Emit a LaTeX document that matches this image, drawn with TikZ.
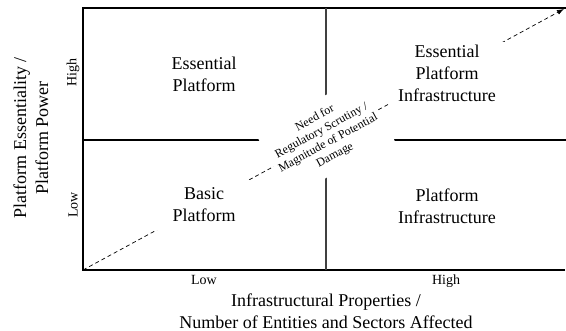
\documentclass[tikz,border=0pt]{standalone}
\usepackage{fontspec}
\setmainfont{Liberation Serif}
\usetikzlibrary{arrows.meta}
\begin{document}
\begin{tikzpicture}[x=1pt,y=-1pt,
  quad/.style={align=center,fill=white,inner sep=0pt,font=\fontsize{18}{22}\selectfont},
  axtitle/.style={align=center,inner sep=0pt,font=\fontsize{18}{22}\selectfont},
  level/.style={inner sep=0pt,font=\fontsize{14}{16}\selectfont},
  frame/.style={line width=1.2pt},
  divider/.style={line width=1.2pt,black!75},
  middivider/.style={line width=1.8pt},
  trend/.style={dash pattern=on 4pt off 3pt,line width=0.7pt,-{Latex[length=7pt,width=5pt]}},
  need/.style={align=center,fill=white,inner sep=0pt,rotate=28.5,
    minimum width=119pt,minimum height=73pt,font=\fontsize{12}{14}\selectfont},
]
\useasboundingbox (0,0) rectangle (566,331);

% frame and quadrant dividers
\coordinate (o)  at (83,270);
\coordinate (tl) at (83,8);
\coordinate (tr) at (566,8);
\coordinate (br) at (565,270);
\coordinate (ml) at (83,140);
\coordinate (mr) at (566,140);
\coordinate (mt) at (326,8);
\coordinate (mb) at (326,270);
\coordinate (tip) at (564,9);

\draw[frame] (br) -- (o) -- (tl) -- (tr);
\draw[middivider] (ml) -- (mr);
\draw[divider] (mt) -- (mb);

% rising trend from origin to top right
\draw[trend] (o) -- (tip);

% quadrant labels
\node[quad,minimum width=80pt,minimum height=46pt] (ep) at (204,74) {Essential\\Platform};
\node[quad,minimum width=96pt,minimum height=50pt] (bp) at (204,205) {Basic\\Platform};
\node[quad,minimum width=116pt,minimum height=62pt] (epi) at (447,73) {Essential\\Platform\\Infrastructure};
\node[quad,minimum width=110pt,minimum height=46pt] (pi) at (447,206) {Platform\\Infrastructure};

% label along the trend
\node[need] (nd) at (325,137) {Need for\\Regulatory Scrutiny /\\Magnitude of Potential\\Damage};

% axis levels
\node[level,rotate=90] (yh) at (73,73) {High};
\node[level,rotate=90] (yl) at (73,205) {Low};
\node[level,anchor=base] (xl) at (204,285) {Low};
\node[level,anchor=base] (xh) at (446,285) {High};

% axis titles
\node[axtitle,rotate=90] (yt) at (31,138) {Platform Essentiality /\\Platform Power};
\node[axtitle] (xt) at (326,311) {Infrastructural Properties /\\Number of Entities and Sectors Affected};
\end{tikzpicture}
\end{document}
